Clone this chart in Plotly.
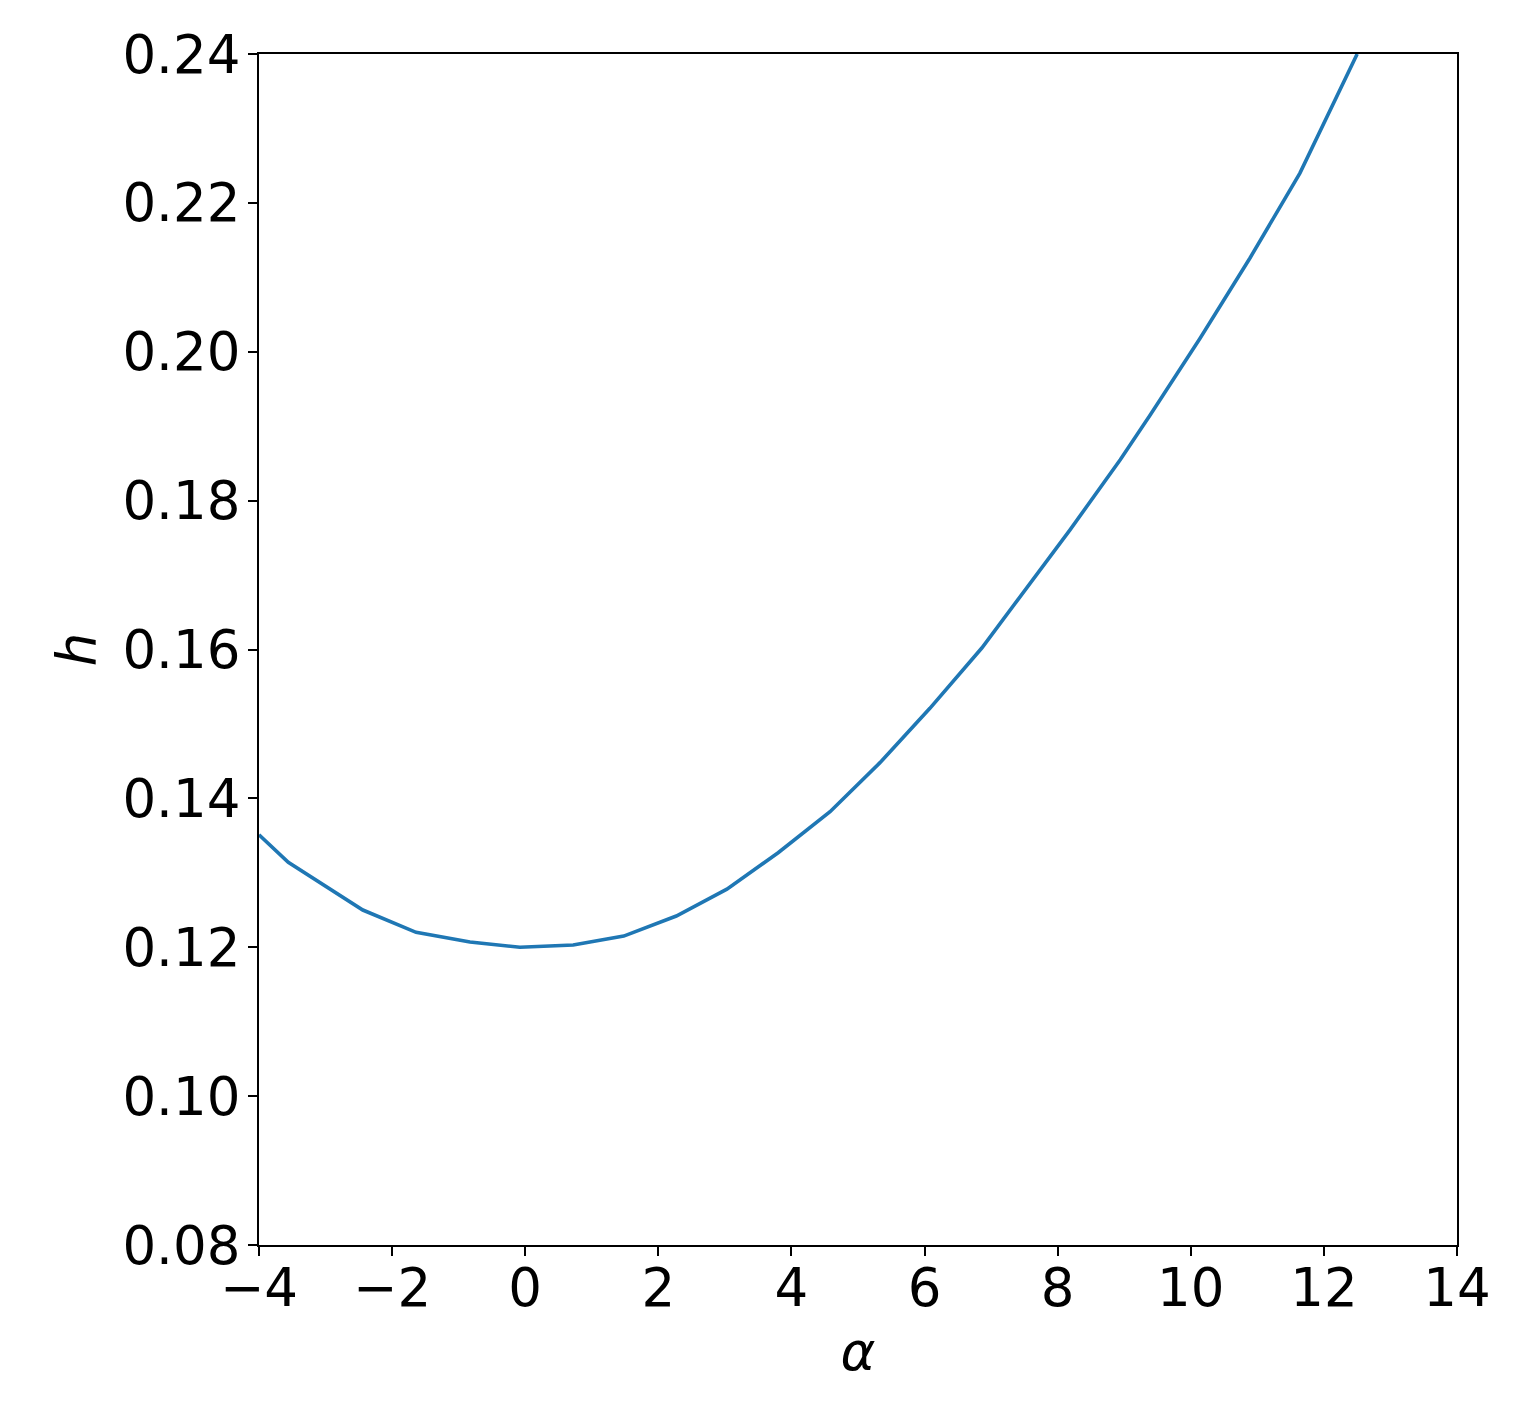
import plotly.graph_objects as go

alpha = [-4.0, -3.56, -2.44, -1.64, -0.83, -0.08, 0.72, 1.48, 2.27, 3.03, 3.80, 4.58,
         5.33, 6.08, 6.86, 7.63, 8.18, 8.94, 9.39, 10.14, 10.89, 11.64, 12.24, 12.5]
h = [0.1351, 0.1314, 0.1250, 0.1220, 0.1207, 0.1200, 0.1203, 0.1215, 0.1242, 0.1278,
     0.1327, 0.1382, 0.1448, 0.1521, 0.1602, 0.1693, 0.1760, 0.1855, 0.1915, 0.2018,
     0.2126, 0.2240, 0.2353, 0.2400]

x_ticks = [-4, -2, 0, 2, 4, 6, 8, 10, 12, 14]
y_ticks = [0.08, 0.10, 0.12, 0.14, 0.16, 0.18, 0.20, 0.22, 0.24]

fig = go.Figure()
fig.add_trace(go.Scatter(x=alpha, y=h, mode="lines",
                         line=dict(color="#1f77b4", width=3.6), showlegend=False,
                         cliponaxis=True))

font = dict(family="DejaVu Sans", size=53, color="black")
fig.update_layout(
    width=1522, height=1401,
    margin=dict(l=251, r=73, t=46, b=164),
    paper_bgcolor="white", plot_bgcolor="white",
    font=font,
)
fig.update_xaxes(
    range=[-4, 14], tickvals=x_ticks,
    ticktext=[("\u2212" + str(-v)) if v < 0 else str(v) for v in x_ticks],
    showgrid=False, zeroline=False,
    showline=True, linecolor="black", linewidth=2, mirror=True,
    ticks="outside", ticklen=9, tickwidth=2, tickcolor="black",
    tickfont=font, ticklabelstandoff=-14,
    title=dict(text="<i>α</i>", font=font, standoff=16),
)
fig.update_yaxes(
    range=[0.08, 0.24], tickvals=y_ticks, ticktext=[f"{v:.2f}" for v in y_ticks],
    showgrid=False, zeroline=False,
    showline=True, linecolor="black", linewidth=2, mirror=True,
    ticks="outside", ticklen=9, tickwidth=2, tickcolor="black",
    tickfont=font, ticklabelstandoff=-3,
    title=dict(text="<i>h</i>", font=font, standoff=10),
)
fig.write_html("out.html")
